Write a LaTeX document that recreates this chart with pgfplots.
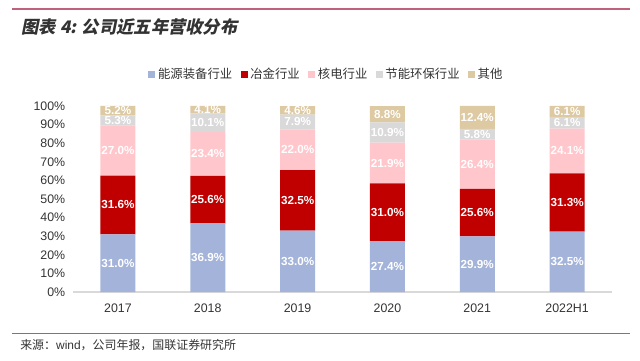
\documentclass[border=0pt]{standalone}
\usepackage{pgfplots}
\pgfplotsset{compat=1.18}
\usepackage{fontspec}
\setmainfont{Liberation Sans}
\newfontfamily\cjk{Noto Sans CJK SC}
\newfontfamily\cjktitle{Noto Sans CJK SC}[FakeSlant=0.2]
\definecolor{cBlue}{HTML}{A3B3DA}
\definecolor{cRed}{HTML}{C00000}
\definecolor{cPink}{HTML}{FFC7CC}
\definecolor{cGray}{HTML}{D9D9D9}
\definecolor{cTan}{HTML}{DDC9A2}
\definecolor{cText}{HTML}{333333}
\definecolor{cLineTop}{HTML}{C0607A}
\definecolor{cLineBot}{HTML}{8E6E78}
\begin{document}
\begin{tikzpicture}
\useasboundingbox (0,0) rectangle (16cm,9cm);
% header / footer
\draw[cLineTop, line width=0.9pt] (0.3cm,8.775cm) -- (15.75cm,8.775cm);
\node[anchor=west, inner sep=0pt, text=cText] at (0.53cm,8.33cm) {\cjktitle\bfseries\fontsize{12.3}{14}\selectfont 图表 4: 公司近五年营收分布};
\draw[cLineBot, line width=0.6pt] (0.3cm,0.675cm) -- (15.75cm,0.675cm);
\node[anchor=west, inner sep=0pt, text=cText] at (0.5cm,0.375cm) {\fontsize{8.5}{10}\selectfont\cjk 来源：\rmfamily wind\cjk ，公司年报，国联证券研究所};
\begin{axis}[
  at={(1.825cm,1.7cm)}, anchor=south west,
  scale only axis, width=13.475cm, height=4.6733cm,
  ybar stacked, bar width=0.875cm,
  xmin=-0.5, xmax=5.5, ymin=0, ymax=100.5,
  clip=false,
  xtick=data, xticklabels={2017,2018,2019,2020,2021,2022H1},
  ytick={0,10,...,100},
  yticklabel={\pgfmathprintnumber{\tick}\%},
  /pgf/number format/assume math mode=true,
  major tick length=0pt,
  axis x line*=bottom,
  axis y line*=left,
  separate axis lines,
  x axis line style={draw=cGray, line width=0.8pt, -},
  y axis line style={draw=none},
  ytick style={draw=none}, xtick style={draw=none},
  ticklabel style={font=\fontsize{8.8}{10}\selectfont, text=cText},
  yticklabel style={xshift=-2pt},
  xticklabel style={yshift=-5pt},
  every axis plot/.append style={draw=none},
  nodes near coords={\pgfmathprintnumber[fixed,fixed zerofill,precision=1]{\pgfplotspointmeta}\%},
  every node near coord/.append style={text=white, font=\bfseries\fontsize{8.3}{9}\selectfont, anchor=center},
  legend columns=5,
  legend style={at={(0.471,1.163)}, anchor=center, draw=none, fill=none,
    font=\cjk\fontsize{8.8}{10}\selectfont, text=cText,
    /tikz/every even column/.append style={column sep=4pt},
    inner sep=0pt},
  legend image code/.code={\fill[#1, draw=none] (0cm,-0.085cm) rectangle (0.17cm,0.085cm);},
]
\addplot[fill=cBlue] coordinates {(0,31.0) (1,36.9) (2,33.0) (3,27.4) (4,29.9) (5,32.5)};
\addplot[fill=cRed] coordinates {(0,31.6) (1,25.6) (2,32.5) (3,31.0) (4,25.6) (5,31.3)};
\addplot[fill=cPink] coordinates {(0,27.0) (1,23.4) (2,22.0) (3,21.9) (4,26.4) (5,24.1)};
\addplot[fill=cGray] coordinates {(0,5.3) (1,10.1) (2,7.9) (3,10.9) (4,5.8) (5,6.1)};
\addplot[fill=cTan] coordinates {(0,5.2) (1,4.1) (2,4.6) (3,8.8) (4,12.4) (5,6.1)};
\legend{能源装备行业,冶金行业,核电行业,节能环保行业,其他}
\end{axis}
\end{tikzpicture}
\end{document}
